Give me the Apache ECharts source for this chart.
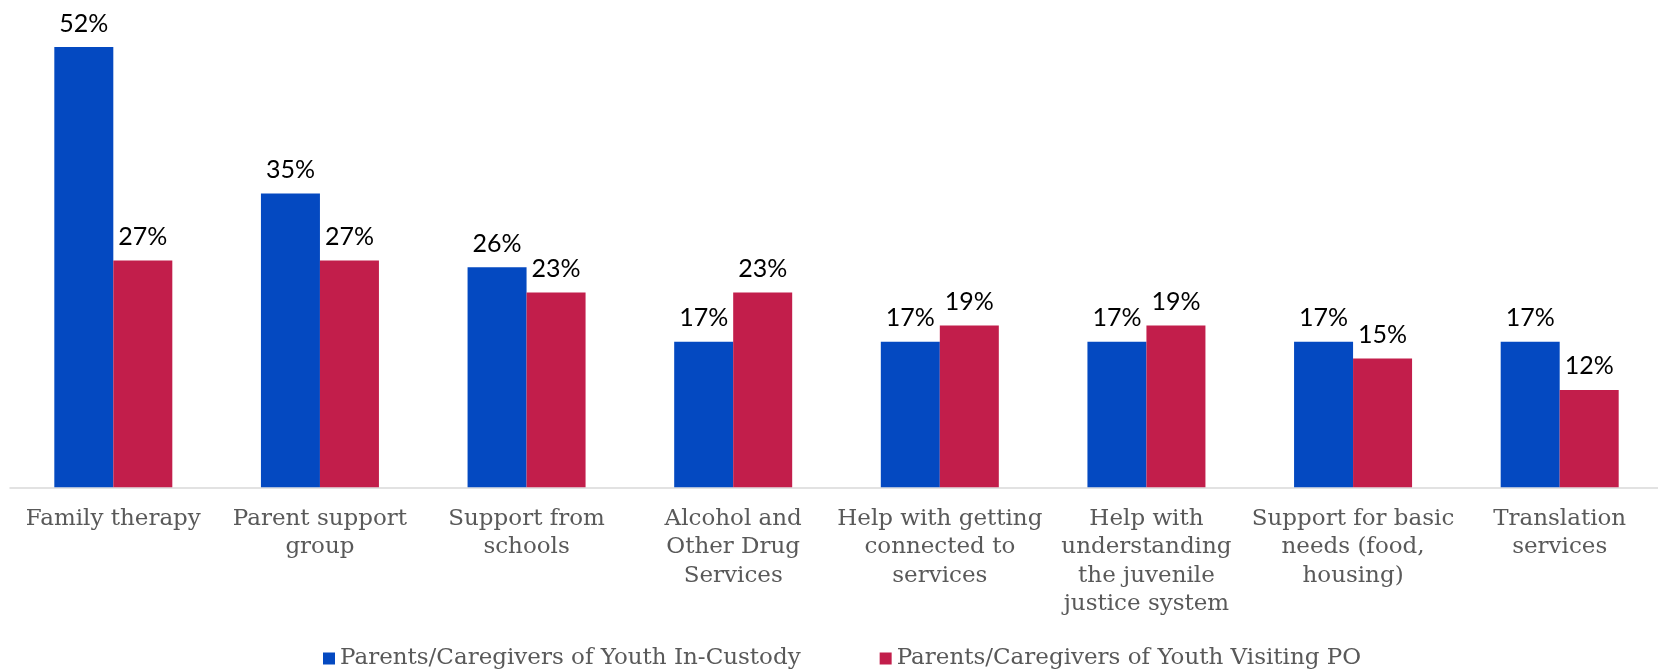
<!DOCTYPE html>
<html>
<head>
<meta charset="utf-8">
<script src="https://cdn.jsdelivr.net/npm/echarts@6/dist/echarts.min.js"></script>
<style>
html,body{margin:0;padding:0;background:#fff;}
#chart{width:1658px;height:672px;}
</style>
</head>
<body>
<div id="chart"></div>
<script>
const categories = [
  "Family therapy",
  "Parent support\ngroup",
  "Support from\nschools",
  "Alcohol and\nOther Drug\nServices",
  "Help with getting\nconnected to\nservices",
  "Help with\nunderstanding\nthe juvenile\njustice system",
  "Support for basic\nneeds (food,\nhousing)",
  "Translation\nservices"
];
const seriesNames = [
  "Parents/Caregivers of Youth In-Custody",
  "Parents/Caregivers of Youth Visiting PO"
];
const inCustody = [52, 34.7, 26, 17.2, 17.2, 17.2, 17.2, 17.2];
const visitingPO = [26.8, 26.8, 23, 23, 19.1, 19.1, 15.2, 11.5];
const colors = ["#0449c1", "#c21e4b"];

const axisFont = "DejaVu Serif";
const labelFont = "Lato";

const chart = echarts.init(document.getElementById('chart'));
const labelCfg = {
  show: true,
  position: 'top',
  distance: 11,
  color: '#000',
  fontFamily: labelFont,
  fontSize: 25,
  formatter: p => Math.round(p.value) + '%'
};
chart.setOption({
  animation: false,
  color: colors,
  grid: {left: 10, width: 1653, top: 47, bottom: 184.7, containLabel: false, outerBoundsMode: 'none'},
  legend: {
    left: 318, top: 642,
    icon: 'rect', itemWidth: 12, itemHeight: 12, itemGap: 79, itemSpacing: 4,
    textStyle: {fontFamily: axisFont, fontSize: 23, color: '#595959'},
    data: seriesNames
  },
  xAxis: {
    type: 'category',
    data: categories,
    axisLine: {show: true, lineStyle: {color: '#d9d9d9', width: 1.5}},
    axisTick: {show: false},
    axisLabel: {
      interval: 0, margin: 17,
      fontFamily: axisFont, fontSize: 23, lineHeight: 28.5, color: '#595959'
    }
  },
  yAxis: {
    type: 'value', min: 0, max: 52, show: false,
    splitLine: {show: false}
  },
  series: [
    {name: seriesNames[0], type: 'bar', data: inCustody, barWidth: 59, barGap: '0%', label: labelCfg},
    {name: seriesNames[1], type: 'bar', data: visitingPO, barWidth: 59, barGap: '0%', label: labelCfg}
  ]
});
</script>
</body>
</html>
